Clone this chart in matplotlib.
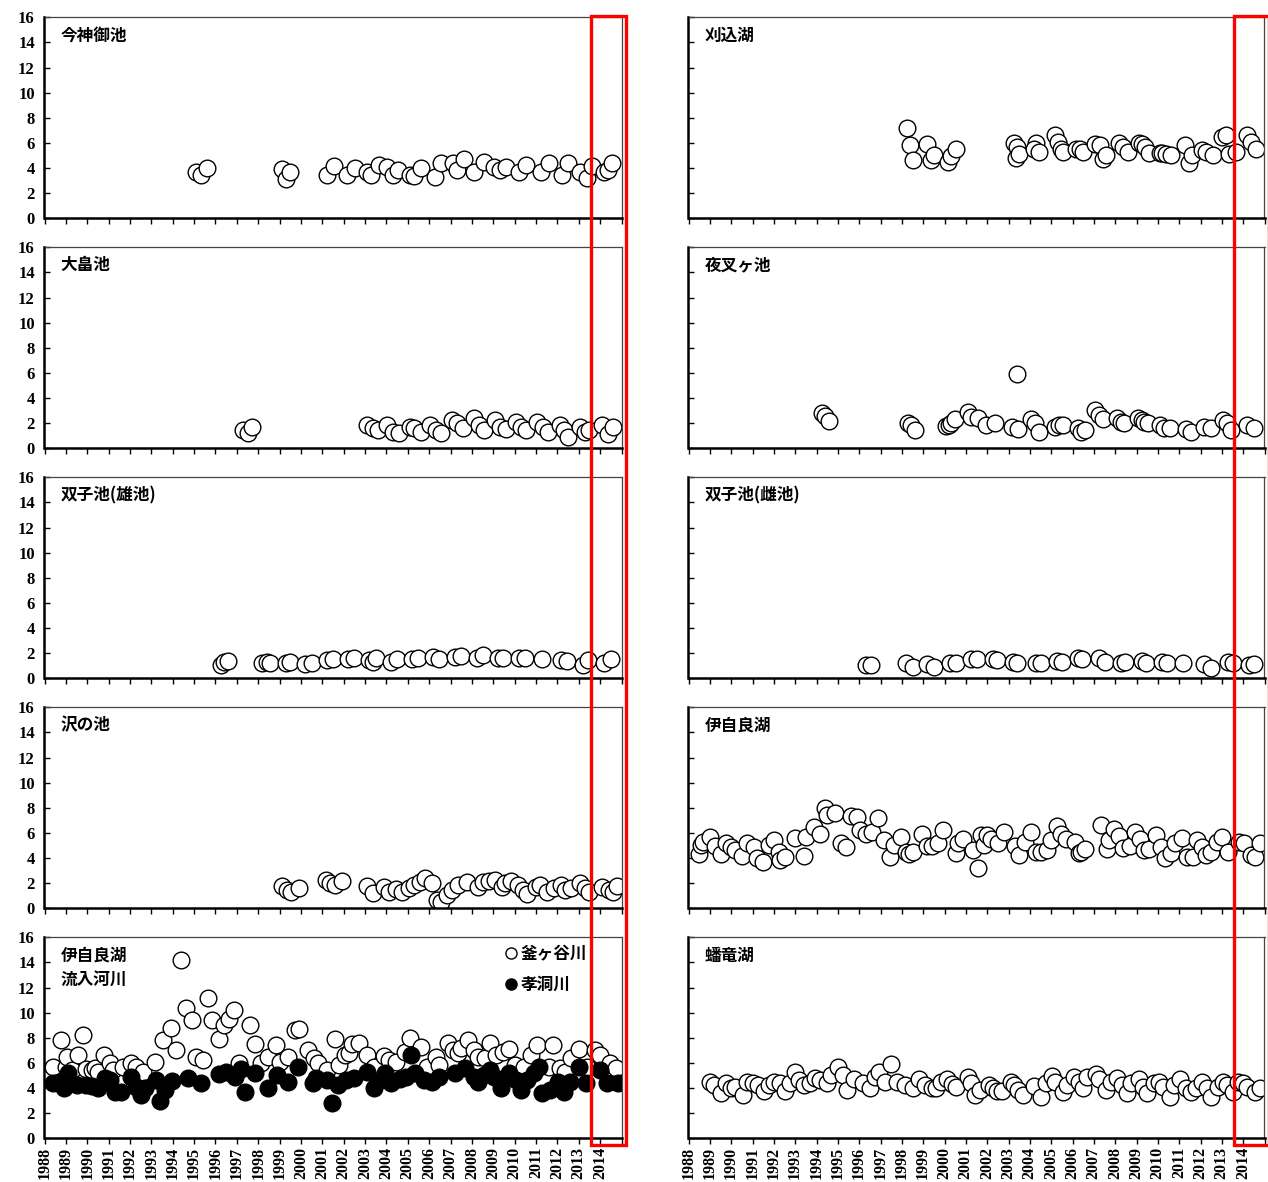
import matplotlib
matplotlib.use("Agg")
import matplotlib.pyplot as plt
from matplotlib.lines import Line2D
from matplotlib.patches import Rectangle

# ---------------- data ----------------
years = list(range(1988, 2016))
year_labels = [str(y) for y in range(1988, 2015)] + [""]
y_ticks = [0, 2, 4, 6, 8, 10, 12, 14, 16]
highlight_start, highlight_end = 2013.58, 2015.2

imagami_x = [1995.1, 1995.3, 1995.6, 1999.1, 1999.3, 1999.5, 2001.2, 2001.55, 2002.15, 2002.55,
             2003.1, 2003.3, 2003.65, 2004.05, 2004.3, 2004.55, 2005.1, 2005.3, 2005.6, 2006.25,
             2006.55, 2007.1, 2007.3, 2007.65, 2008.1, 2008.55, 2009.05, 2009.3, 2009.6, 2010.2,
             2010.55, 2011.25, 2011.6, 2012.2, 2012.5, 2013.05, 2013.4, 2013.6, 2014.2, 2014.35, 2014.55]
imagami_y = [3.7, 3.45, 4.0, 3.9, 3.1, 3.7, 3.45, 4.15, 3.45, 4.0,
             3.7, 3.45, 4.25, 4.1, 3.45, 3.85, 3.45, 3.4, 4.0, 3.3,
             4.4, 4.4, 3.85, 4.7, 3.7, 4.45, 4.1, 3.85, 4.1, 3.7,
             4.25, 3.7, 4.4, 3.45, 4.4, 3.7, 3.2, 4.15, 3.7, 3.85, 4.4]

ohata_x = [1997.3, 1997.5, 1997.7, 2003.1, 2003.35, 2003.6, 2004.05, 2004.3, 2004.6, 2005.1,
           2005.3, 2005.6, 2006.05, 2006.3, 2006.55, 2007.05, 2007.3, 2007.6, 2008.1, 2008.35,
           2008.55, 2009.1, 2009.3, 2009.6, 2010.05, 2010.3, 2010.55, 2011.05, 2011.35, 2011.55,
           2012.1, 2012.3, 2012.5, 2013.05, 2013.3, 2013.5, 2014.1, 2014.35, 2014.6]
ohata_y = [1.45, 1.25, 1.7, 1.85, 1.6, 1.45, 1.85, 1.3, 1.2, 1.7,
           1.6, 1.3, 1.85, 1.45, 1.2, 2.25, 2.0, 1.6, 2.4, 1.85,
           1.45, 2.25, 1.7, 1.5, 2.1, 1.7, 1.45, 2.1, 1.7, 1.3,
           1.85, 1.45, 0.9, 1.7, 1.3, 1.45, 1.85, 1.15, 1.7]

futago_o_x = [1996.25, 1996.4, 1996.6, 1998.2, 1998.4, 1998.55, 1999.3, 1999.5, 2000.2, 2000.5,
              2001.2, 2001.5, 2002.2, 2002.5, 2003.2, 2003.35, 2003.5, 2004.2, 2004.5, 2005.2,
              2005.5, 2006.2, 2006.45, 2007.2, 2007.5, 2008.25, 2008.5, 2009.2, 2009.45, 2010.2,
              2010.5, 2011.3, 2012.15, 2012.45, 2013.2, 2013.45, 2014.2, 2014.5]
futago_o_y = [1.05, 1.3, 1.4, 1.2, 1.3, 1.25, 1.2, 1.3, 1.15, 1.25,
              1.45, 1.5, 1.55, 1.65, 1.45, 1.3, 1.6, 1.3, 1.5, 1.55,
              1.6, 1.7, 1.55, 1.7, 1.8, 1.6, 1.85, 1.65, 1.65, 1.6,
              1.65, 1.55, 1.45, 1.4, 1.05, 1.45, 1.25, 1.5]

sawa_x = [1999.1, 1999.35, 1999.55, 1999.9, 2001.15, 2001.35, 2001.6, 2001.9, 2003.1, 2003.35,
          2003.9, 2004.1, 2004.45, 2004.75, 2005.05, 2005.3, 2005.55, 2005.8, 2006.15, 2006.35,
          2006.55, 2006.85, 2007.05, 2007.35, 2007.75, 2008.3, 2008.5, 2008.8, 2009.1, 2009.4,
          2009.55, 2009.85, 2010.15, 2010.4, 2010.6, 2011.0, 2011.2, 2011.5, 2011.85, 2012.15,
          2012.35, 2012.65, 2013.05, 2013.3, 2013.5, 2014.1, 2014.4, 2014.6, 2014.8]
sawa_y = [1.8, 1.45, 1.3, 1.6, 2.25, 2.05, 1.85, 2.2, 1.8, 1.2,
          1.7, 1.3, 1.5, 1.3, 1.65, 1.85, 2.1, 2.4, 2.0, 0.65,
          0.5, 1.05, 1.45, 1.85, 2.1, 1.7, 2.1, 2.2, 2.25, 1.7,
          2.0, 2.2, 1.85, 1.45, 1.15, 1.7, 1.85, 1.3, 1.6, 1.85,
          1.45, 1.6, 2.05, 1.6, 1.3, 1.7, 1.45, 1.3, 1.8]

kamaga_x = [1988.4, 1988.75, 1989.0, 1989.05, 1989.3, 1989.55, 1989.8, 1989.95, 1990.2, 1990.35,
            1990.5, 1990.8, 1991.05, 1991.2, 1991.65, 1992.05, 1992.3, 1992.6, 1993.15, 1993.55,
            1993.9, 1994.15, 1994.4, 1994.6, 1994.9, 1995.1, 1995.4, 1995.65, 1995.85, 1996.15,
            1996.4, 1996.65, 1996.85, 1997.1, 1997.6, 1997.85, 1998.15, 1998.45, 1998.85, 1999.0,
            1999.4, 1999.7, 1999.9, 2000.35, 2000.6, 2000.8, 2001.2, 2001.6, 2001.8, 2002.05,
            2002.25, 2002.4, 2002.7, 2003.1, 2003.4, 2003.9, 2004.1, 2004.45, 2004.85, 2005.1,
            2005.6, 2005.9, 2006.3, 2006.45, 2006.9, 2007.1, 2007.35, 2007.5, 2007.8, 2008.1,
            2008.3, 2008.6, 2008.85, 2009.15, 2009.45, 2009.75, 2010.0, 2010.45, 2010.75, 2011.05,
            2011.6, 2011.8, 2012.1, 2012.35, 2012.65, 2013.0, 2013.4, 2013.75, 2014.0, 2014.45, 2014.75]
kamaga_y = [5.7, 7.8, 5.7, 6.5, 5.4, 6.6, 8.2, 5.5, 5.4, 5.6,
            5.3, 6.6, 6.0, 5.4, 5.7, 6.0, 5.7, 5.3, 6.1, 7.8,
            8.75, 7.0, 14.2, 10.4, 9.4, 6.5, 6.2, 11.2, 9.4, 7.9,
            9.0, 9.5, 10.2, 6.0, 9.0, 7.5, 6.0, 6.5, 7.4, 6.1,
            6.5, 8.6, 8.7, 7.0, 6.4, 6.0, 5.4, 7.9, 5.8, 6.6,
            6.8, 7.5, 7.6, 6.6, 5.7, 6.55, 6.2, 6.1, 6.9, 7.95,
            7.3, 5.7, 6.5, 5.8, 7.6, 7.0, 6.8, 7.2, 7.8, 7.0,
            6.5, 6.4, 7.55, 6.6, 6.9, 7.1, 5.8, 5.7, 6.6, 7.4,
            5.7, 7.4, 5.6, 5.3, 6.4, 7.1, 5.7, 7.0, 6.6, 6.0, 5.6]

koudou_x = [1988.4, 1988.7, 1988.9, 1989.1, 1989.3, 1989.5, 1989.95, 1990.2, 1990.5, 1990.85,
            1991.05, 1991.3, 1991.6, 1992.05, 1992.3, 1992.5, 1992.7, 1993.2, 1993.4, 1993.65,
            1993.95, 1994.7, 1995.3, 1996.15, 1996.5, 1996.9, 1997.2, 1997.4, 1997.85, 1998.45,
            1998.9, 1999.4, 1999.85, 2000.55, 2000.7, 2001.2, 2001.45, 2001.75, 2002.1, 2002.5,
            2003.1, 2003.4, 2003.7, 2003.95, 2004.2, 2004.65, 2004.9, 2005.15, 2005.35, 2005.75,
            2006.15, 2006.45, 2007.2, 2007.7, 2008.1, 2008.3, 2008.55, 2008.85, 2009.05, 2009.35,
            2009.75, 2010.05, 2010.3, 2010.6, 2010.9, 2011.15, 2011.3, 2011.65, 2012.05, 2012.3,
            2012.6, 2013.0, 2013.35, 2014.0, 2014.3, 2014.85]
koudou_y = [4.4, 4.45, 4.0, 5.2, 4.4, 4.25, 4.25, 4.15, 4.0, 4.8,
            4.65, 3.7, 3.65, 4.9, 4.1, 3.45, 4.0, 4.65, 3.0, 3.85,
            4.55, 4.8, 4.4, 5.1, 5.3, 4.9, 5.5, 3.7, 5.2, 4.0,
            5.05, 4.5, 5.7, 4.4, 4.8, 4.65, 2.8, 4.25, 4.65, 4.8,
            5.3, 4.0, 4.65, 5.2, 4.4, 4.7, 4.9, 6.6, 5.2, 4.65,
            4.5, 4.9, 5.2, 5.6, 4.9, 4.5, 5.05, 5.45, 4.9, 4.0,
            5.2, 4.65, 3.85, 4.65, 5.2, 5.7, 3.6, 3.85, 4.5, 3.7,
            4.5, 5.7, 4.4, 5.45, 4.4, 4.4]

karikomi_x = [1998.25, 1998.4, 1998.5, 1999.2, 1999.35, 1999.5, 2000.15, 2000.3, 2000.55, 2003.25,
              2003.4, 2003.35, 2003.5, 2004.3, 2004.2, 2004.45, 2005.2, 2005.3, 2005.45, 2005.55,
              2006.15, 2006.35, 2006.5, 2007.05, 2007.3, 2007.45, 2007.55, 2008.2, 2008.35, 2008.6,
              2009.1, 2009.25, 2009.4, 2009.6, 2010.1, 2010.2, 2010.4, 2010.6, 2011.25, 2011.45,
              2011.6, 2012.05, 2012.25, 2012.6, 2013.0, 2013.2, 2013.35, 2013.65, 2014.2, 2014.35, 2014.6]
karikomi_y = [7.2, 5.8, 4.65, 5.9, 4.65, 5.0, 4.5, 4.95, 5.55, 6.0,
              5.7, 4.8, 5.1, 6.0, 5.55, 5.3, 6.6, 6.1, 5.55, 5.3,
              5.55, 5.5, 5.25, 5.9, 5.85, 4.7, 5.05, 6.0, 5.65, 5.25,
              6.0, 5.9, 5.7, 5.2, 5.2, 5.2, 5.1, 5.05, 5.85, 4.4,
              5.05, 5.45, 5.3, 5.05, 6.5, 6.65, 5.1, 5.3, 6.65, 6.1, 5.55]

yasha_x = [1994.25, 1994.4, 1994.6, 1998.3, 1998.45, 1998.6, 2000.05, 2000.2, 2000.3, 2000.5,
           2001.1, 2001.25, 2001.55, 2001.95, 2002.35, 2003.15, 2003.4, 2003.45, 2004.05, 2004.25,
           2004.45, 2005.2, 2005.35, 2005.55, 2006.25, 2006.4, 2006.6, 2007.05, 2007.25, 2007.45,
           2008.1, 2008.25, 2008.4, 2009.05, 2009.25, 2009.35, 2009.55, 2010.1, 2010.3, 2010.55,
           2011.3, 2011.55, 2012.15, 2012.5, 2013.05, 2013.25, 2013.45, 2014.2, 2014.5]
yasha_y = [2.8, 2.55, 2.2, 2.0, 1.85, 1.45, 1.8, 1.85, 2.05, 2.3,
           2.9, 2.5, 2.4, 1.85, 2.05, 1.7, 5.9, 1.5, 2.3, 2.0,
           1.3, 1.7, 1.85, 1.85, 1.6, 1.3, 1.45, 3.05, 2.65, 2.3,
           2.4, 2.1, 2.0, 2.4, 2.25, 2.1, 2.0, 1.85, 1.6, 1.6,
           1.5, 1.3, 1.7, 1.6, 2.25, 2.05, 1.45, 1.85, 1.6]

futago_m_x = [1996.3, 1996.55, 1998.2, 1998.5, 1999.2, 1999.5, 2000.25, 2000.55, 2001.25, 2001.5,
              2002.25, 2002.45, 2003.2, 2003.4, 2004.3, 2004.5, 2005.25, 2005.5, 2006.25, 2006.45,
              2007.25, 2007.5, 2008.25, 2008.45, 2009.25, 2009.45, 2010.2, 2010.45, 2011.2, 2012.15,
              2012.5, 2013.3, 2013.5, 2014.25, 2014.5]
futago_m_y = [1.05, 1.05, 1.25, 0.9, 1.15, 0.9, 1.2, 1.25, 1.55, 1.5,
              1.55, 1.45, 1.3, 1.25, 1.25, 1.2, 1.4, 1.3, 1.6, 1.55,
              1.65, 1.3, 1.25, 1.3, 1.4, 1.25, 1.3, 1.25, 1.2, 1.15,
              0.85, 1.3, 1.2, 1.05, 1.15]

ijira_x = [1988.5, 1988.6, 1988.7, 1989.0, 1989.25, 1989.5, 1989.75, 1990.0, 1990.2, 1990.5,
           1990.75, 1991.05, 1991.2, 1991.5, 1991.75, 1992.0, 1992.25, 1992.3, 1992.5, 1993.0,
           1993.4, 1993.5, 1993.9, 1994.15, 1994.4, 1994.5, 1994.85, 1995.15, 1995.4, 1995.6,
           1995.9, 1996.05, 1996.3, 1996.6, 1996.9, 1997.15, 1997.45, 1997.65, 1997.95, 1998.2,
           1998.35, 1998.5, 1998.95, 1999.2, 1999.4, 1999.7, 1999.95, 2000.55, 2000.65, 2000.85,
           2001.35, 2001.55, 2001.7, 2001.85, 2002.0, 2002.2, 2002.5, 2002.8, 2003.3, 2003.5,
           2003.75, 2004.05, 2004.3, 2004.5, 2004.8, 2005.0, 2005.25, 2005.45, 2005.7, 2006.1,
           2006.3, 2006.4, 2006.6, 2007.35, 2007.6, 2007.7, 2007.95, 2008.2, 2008.35, 2008.7,
           2008.95, 2009.15, 2009.35, 2009.6, 2009.9, 2010.15, 2010.35, 2010.6, 2010.8, 2011.15,
           2011.35, 2011.65, 2011.85, 2012.05, 2012.25, 2012.5, 2012.75, 2013.0, 2013.3, 2013.8,
           2014.05, 2014.35, 2014.55, 2014.8]
ijira_y = [4.3, 5.05, 5.3, 5.7, 4.95, 4.3, 5.2, 4.9, 4.65, 4.2,
           5.2, 4.85, 4.0, 3.7, 5.05, 5.4, 4.45, 3.85, 4.1, 5.6,
           4.15, 5.7, 6.45, 5.95, 7.95, 7.4, 7.55, 5.2, 4.9, 7.35,
           7.3, 6.2, 5.95, 6.05, 7.15, 5.45, 4.1, 5.05, 5.7, 4.45,
           4.35, 4.5, 5.95, 4.95, 4.95, 5.2, 6.25, 4.4, 5.2, 5.55,
           4.65, 3.2, 5.8, 5.05, 5.85, 5.5, 5.2, 6.05, 4.95, 4.25,
           5.3, 6.05, 4.5, 4.45, 4.65, 5.45, 6.55, 5.95, 5.5, 5.3,
           4.4, 4.5, 4.75, 6.6, 4.7, 5.4, 6.3, 5.75, 4.8, 4.95,
           6.05, 5.5, 4.65, 4.75, 5.85, 4.9, 4.0, 4.4, 5.2, 5.6,
           4.1, 4.1, 5.45, 4.9, 4.25, 4.45, 5.3, 5.7, 4.5, 5.3,
           5.2, 4.25, 4.1, 5.2]

banryu_x = [1989.0, 1989.2, 1989.5, 1989.75, 1990.0, 1990.2, 1990.55, 1990.75, 1991.0, 1991.25,
            1991.55, 1991.75, 1992.0, 1992.3, 1992.5, 1992.75, 1993.0, 1993.2, 1993.4, 1993.7,
            1993.95, 1994.15, 1994.5, 1994.7, 1995.0, 1995.25, 1995.45, 1995.75, 1996.2, 1996.5,
            1996.75, 1996.95, 1997.2, 1997.5, 1997.75, 1998.15, 1998.5, 1998.8, 1999.1, 1999.4,
            1999.6, 1999.85, 2000.1, 2000.35, 2000.55, 2001.1, 2001.25, 2001.45, 2001.65, 2002.1,
            2002.25, 2002.45, 2002.7, 2003.1, 2003.25, 2003.45, 2003.7, 2004.2, 2004.5, 2004.75,
            2005.05, 2005.2, 2005.55, 2005.75, 2006.05, 2006.3, 2006.5, 2006.7, 2007.1, 2007.25,
            2007.55, 2007.8, 2008.1, 2008.3, 2008.55, 2008.75, 2009.1, 2009.3, 2009.5, 2009.8,
            2010.05, 2010.25, 2010.55, 2010.75, 2011.05, 2011.3, 2011.55, 2011.8, 2012.05, 2012.3,
            2012.5, 2012.8, 2013.05, 2013.25, 2013.5, 2013.75, 2014.0, 2014.2, 2014.55, 2014.8]
banryu_y = [4.5, 4.25, 3.6, 4.4, 4.0, 4.1, 3.45, 4.45, 4.4, 4.25,
            3.75, 4.25, 4.5, 4.4, 3.75, 4.4, 5.3, 4.65, 4.25, 4.4,
            4.8, 4.65, 4.4, 5.05, 5.7, 5.05, 3.85, 4.7, 4.4, 4.0,
            4.9, 5.3, 4.5, 5.9, 4.5, 4.25, 4.0, 4.7, 4.25, 4.0,
            4.0, 4.5, 4.7, 4.3, 4.1, 4.9, 4.4, 3.45, 3.85, 4.25,
            4.0, 3.75, 3.75, 4.5, 4.25, 3.85, 3.45, 4.2, 3.3, 4.4,
            4.95, 4.5, 3.65, 4.25, 4.9, 4.5, 4.0, 4.9, 5.1, 4.7,
            3.85, 4.5, 4.8, 4.25, 3.6, 4.4, 4.7, 4.1, 3.6, 4.4,
            4.45, 4.1, 3.25, 4.25, 4.7, 4.0, 3.65, 4.0, 4.5, 4.0,
            3.3, 4.1, 4.5, 4.25, 3.65, 4.45, 4.4, 4.1, 3.65, 4.0]

panels = [
    ("今神御池", imagami_x, imagami_y),
    ("刈込湖", karikomi_x, karikomi_y),
    ("大畠池", ohata_x, ohata_y),
    ("夜叉ヶ池", yasha_x, yasha_y),
    ("双子池(雄池)", futago_o_x, futago_o_y),
    ("双子池(雌池)", futago_m_x, futago_m_y),
    ("沢の池", sawa_x, sawa_y),
    ("伊自良湖", ijira_x, ijira_y),
    ("伊自良湖\n流入河川", None, None),
    ("蟠竜湖", banryu_x, banryu_y),
]
legend_labels = ["釜ヶ谷川", "孝洞川"]

# ---------------- figure ----------------
W, H = 1268, 1182
fig = plt.figure(figsize=(W / 100, H / 100), dpi=100)
fig.patch.set_facecolor("white")

cjk = ["Noto Sans CJK JP", "DejaVu Sans"]
serif = ["Liberation Serif", "DejaVu Serif"]

col_left = [44.5, 688.5]
col_w = [577, 576]
row_top = [17.3 + 230 * i for i in range(5)]
row_h = 201

ms = 12
axes = []
for idx, (title, xs, ys) in enumerate(panels):
    r, c = divmod(idx, 2)
    ax = fig.add_axes([col_left[c] / W, 1 - (row_top[r] + row_h) / H, col_w[c] / W, row_h / H])
    axes.append(ax)
    ax.set_xlim(1988, 2015)
    ax.set_ylim(0, 16)
    ax.set_xticks(years)
    ax.set_yticks(y_ticks)
    if xs is not None:
        ax.plot(xs, ys, linestyle="none", marker="o", markersize=ms,
                markerfacecolor="white", markeredgecolor="black", markeredgewidth=1.0)
    else:
        ax.plot(kamaga_x, kamaga_y, linestyle="none", marker="o", markersize=ms,
                markerfacecolor="white", markeredgecolor="black", markeredgewidth=1.0)
        ax.plot(koudou_x, koudou_y, linestyle="none", marker="o", markersize=ms,
                markerfacecolor="black", markeredgecolor="black", markeredgewidth=1.0)
        handles = [
            Line2D([], [], linestyle="none", marker="o", markersize=8,
                   markerfacecolor="white", markeredgecolor="black", markeredgewidth=1.0),
            Line2D([], [], linestyle="none", marker="o", markersize=8,
                   markerfacecolor="black", markeredgecolor="black"),
        ]
        ax.legend(handles, legend_labels, loc="upper right", bbox_to_anchor=(0.96, 1.02),
                  frameon=False, handlelength=0.6, handletextpad=0.25, labelspacing=0.75,
                  borderaxespad=0.3, prop={"family": cjk, "weight": "bold", "size": 12})
    ax.text(0.028, 0.955, title, transform=ax.transAxes, ha="left", va="top",
            family=cjk, weight="bold", fontsize=12, linespacing=1.45)

    for side in ["left", "bottom"]:
        ax.spines[side].set_linewidth(1.8)
        ax.spines[side].set_color("black")
    for side in ["top", "right"]:
        ax.spines[side].set_linewidth(0.9)
        ax.spines[side].set_color("#444444")
    ax.tick_params(axis="x", direction="out", length=4, width=1.0)
    ax.tick_params(axis="y", direction="in", length=4, width=1.0)

    if c == 0:
        ax.set_yticklabels([str(v) for v in y_ticks], family=serif, weight="bold", fontsize=12)
        ax.tick_params(axis="y", pad=7)
    else:
        ax.set_yticklabels([])
    if r == 4:
        ax.set_xticklabels(year_labels, rotation=90, family=serif, weight="bold", fontsize=11.5)
        ax.tick_params(axis="x", pad=2)
    else:
        ax.set_xticklabels([])

# ---------------- red highlight boxes ----------------
fig.canvas.draw()
inv = fig.transFigure.inverted()
for c in range(2):
    top_ax = axes[c]
    bot_ax = axes[8 + c]
    x0 = inv.transform(top_ax.transData.transform((highlight_start, 0)))[0]
    x1 = inv.transform(top_ax.transData.transform((highlight_end, 0)))[0]
    y_top = top_ax.get_position().y1 + 1.5 / H
    y_bot = bot_ax.get_position().y0 - 7.0 / H
    rect = Rectangle((x0, y_bot), x1 - x0, y_top - y_bot, transform=fig.transFigure,
                     fill=False, edgecolor="#ff0000", linewidth=2.4, zorder=10, clip_on=False)
    fig.add_artist(rect)

fig.savefig("out.png", dpi=100, facecolor="white")
